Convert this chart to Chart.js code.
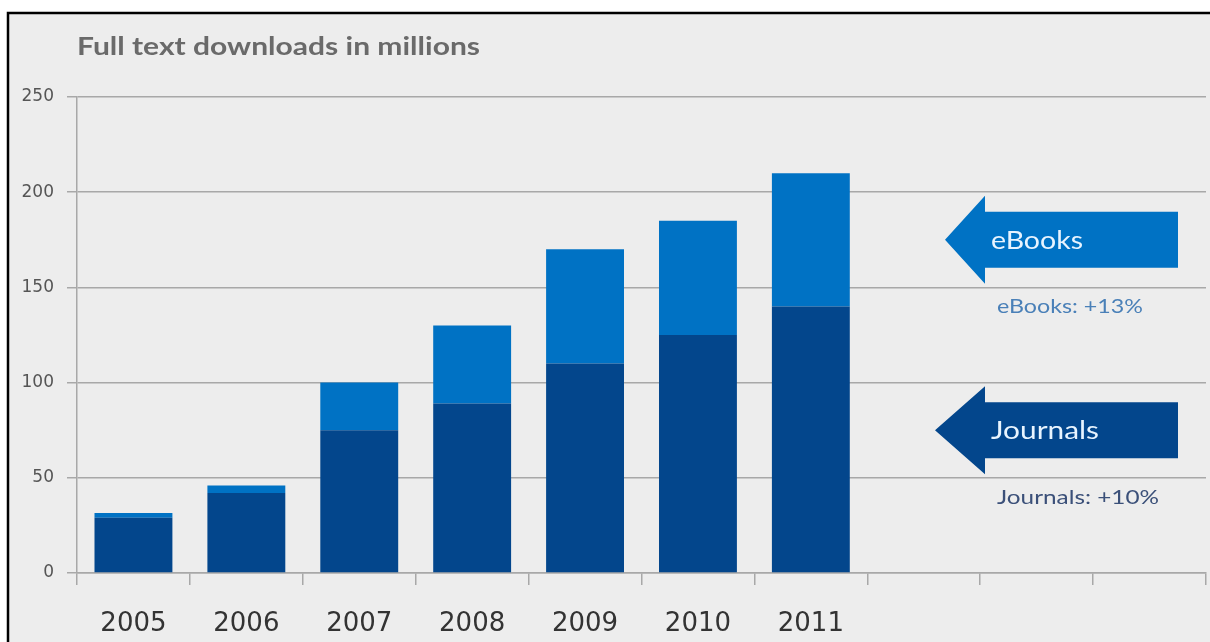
<!DOCTYPE html>
<html>
<head>
<meta charset="utf-8">
<script src="https://cdn.jsdelivr.net/npm/chart.js@4.4.1/dist/chart.umd.min.js"></script>
<style>
  html, body { margin: 0; padding: 0; background: #ffffff; overflow: hidden; width: 1210px; height: 642px; }
  #wrap { position: absolute; left: 0; top: 0; width: 1210px; height: 642px; }
  canvas { display: block; }
</style>
</head>
<body>
<div id="wrap"><canvas id="c" width="1210" height="642"></canvas></div>
<script>
// ---- Data ----
const years = ['2005', '2006', '2007', '2008', '2009', '2010', '2011', '', '', ''];
const journals = [29, 42, 75, 89, 110, 125, 140];
const ebooks = [2.5, 4, 25, 41, 60, 60, 70];
const yTicks = [0, 50, 100, 150, 200, 250];
const titleText = 'Full text downloads in millions';
const arrows = [
  { label: 'eBooks', note: 'eBooks: +13%', value: 175, color: '#0072c4', noteColor: '#4a80b8', tipInset: 52, labelW: 92, noteW: 146 },
  { label: 'Journals', note: 'Journals: +10%', value: 75, color: '#03468c', noteColor: '#3b5079', tipInset: 62, labelW: 108, noteW: 162 }
];

const FONT = 'Lato, "Open Sans", "Liberation Sans", sans-serif';
const TICKFONT = '"DejaVu Sans", Lato, sans-serif';

function stretchText(ctx, text, x, y, targetW) {
  const w = ctx.measureText(text).width;
  const s = targetW / w;
  ctx.save();
  ctx.translate(x, y);
  ctx.scale(s, 1);
  ctx.fillText(text, 0, 0);
  ctx.restore();
}

const frame = {
  id: 'frame',
  beforeDraw(chart) {
    const ctx = chart.ctx;
    ctx.save();
    ctx.fillStyle = '#ffffff';
    ctx.fillRect(0, 0, chart.width, chart.height);
    ctx.fillStyle = '#ededed';
    ctx.fillRect(9, 14, chart.width - 9, chart.height - 14);
    ctx.strokeStyle = '#000000';
    ctx.lineWidth = 2.5;
    ctx.beginPath();
    ctx.moveTo(8, chart.height + 5);
    ctx.lineTo(8, 13);
    ctx.lineTo(chart.width + 5, 13);
    ctx.stroke();
    // title
    ctx.fillStyle = '#6a6a6a';
    ctx.font = 'bold 24px ' + FONT;
    ctx.textBaseline = 'middle';
    ctx.textAlign = 'left';
    stretchText(ctx, titleText, chart.chartArea.left, 47, 403);
    ctx.restore();
  },
  afterDraw(chart) {
    const ctx = chart.ctx;
    const y = chart.scales.y;
    const area = chart.chartArea;
    ctx.save();
    arrows.forEach(a => {
      const cy = y.getPixelForValue(a.value);
      const right = area.right - 28;
      const headBase = area.right - 221;
      const tip = headBase - (a.tipInset - 12);
      const bodyH = 28;
      const headH = 44;
      ctx.fillStyle = a.color;
      ctx.beginPath();
      ctx.moveTo(tip, cy);
      ctx.lineTo(headBase, cy - headH);
      ctx.lineTo(headBase, cy - bodyH);
      ctx.lineTo(right, cy - bodyH);
      ctx.lineTo(right, cy + bodyH);
      ctx.lineTo(headBase, cy + bodyH);
      ctx.lineTo(headBase, cy + headH);
      ctx.closePath();
      ctx.fill();
      ctx.fillStyle = '#e8f4ff';
      ctx.font = '25px ' + FONT;
      ctx.textBaseline = 'middle';
      ctx.textAlign = 'left';
      stretchText(ctx, a.label, headBase + 6, cy + 1, a.labelW);
      ctx.fillStyle = a.noteColor;
      ctx.font = '20px ' + FONT;
      stretchText(ctx, a.note, headBase + 12, cy + 67, a.noteW);
    });
    ctx.restore();
  }
};

new Chart(document.getElementById('c'), {
  type: 'bar',
  data: {
    labels: years,
    datasets: [
      { label: 'Journals', data: journals, backgroundColor: '#03468c', borderWidth: 0 },
      { label: 'eBooks', data: ebooks, backgroundColor: '#0072c4', borderWidth: 0 }
    ]
  },
  options: {
    responsive: false,
    animation: false,
    devicePixelRatio: 1,
    layout: { padding: { top: 97, right: 4, left: 0, bottom: 0 } },
    datasets: { bar: { barPercentage: 0.69, categoryPercentage: 1.0 } },
    plugins: { legend: { display: false }, tooltip: { enabled: false }, title: { display: false } },
    scales: {
      x: {
        stacked: true,
        grid: { display: true, drawOnChartArea: false, drawTicks: true, tickLength: 12, color: '#a8a8a8', lineWidth: 1.5, offset: true },
        border: { display: true, color: '#a8a8a8', width: 1.5 },
        ticks: { color: '#333333', font: { family: TICKFONT, size: 26 }, padding: 24, maxRotation: 0, autoSkip: false },
        afterFit(scale) { scale.height = 69; }
      },
      y: {
        stacked: true,
        min: 0,
        max: 250,
        afterBuildTicks(scale) { scale.ticks = yTicks.map(v => ({ value: v })); },
        grid: { color: '#a8a8a8', lineWidth: 1.5, tickLength: 10, drawTicks: true },
        border: { display: true, color: '#a8a8a8', width: 1.5 },
        ticks: { color: '#555555', font: { family: TICKFONT, size: 17 }, padding: 13 },
        afterFit(scale) { scale.width = 77; }
      }
    }
  },
  plugins: [frame]
});
</script>
</body>
</html>
